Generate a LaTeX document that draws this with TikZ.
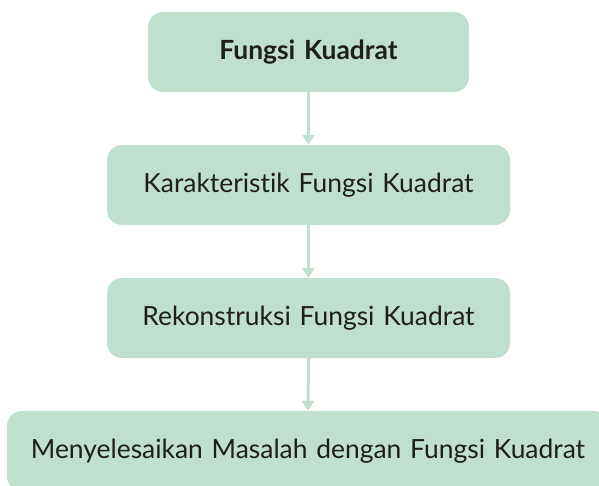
\documentclass[tikz,border=0pt]{standalone}
\usepackage{fontspec}
\setmainfont[Ligatures={NoCommon}]{Lato}
\usepackage{xcolor}
\usetikzlibrary{arrows.meta,positioning}
\definecolor{kuaMint}{HTML}{BFE0CF}
\definecolor{kuaText}{HTML}{1E1E1E}

\begin{document}
\begin{tikzpicture}[
    x=1pt, y=-1pt,
    font=\fontsize{26.4}{30}\selectfont,
    topic/.style={fill=kuaMint, draw=none, rounded corners=15pt, text=kuaText, minimum height=80pt, text width=#1, align=center, inner sep=0pt},
    flow/.style={-{Triangle[length=10pt, width=12pt]}, line width=3pt, draw=kuaMint}
]
\clip (0,0) rectangle (599,486);

\node[topic=321pt, font=\fontsize{26.4}{30}\selectfont\bfseries] (fk) at (308.5,52) {Fungsi Kuadrat};
\node[topic=403pt] (kar) at (308.5,185) {Karakteristik Fungsi Kuadrat};
\node[topic=403pt] (rek) at (308.5,318) {Rekonstruksi Fungsi Kuadrat};
\node[topic=602pt] (mas) at (308,451) {Menyelesaikan Masalah dengan Fungsi Kuadrat};

\draw[flow] (fk.south) -- (kar.north);
\draw[flow] (kar.south) -- (rek.north);
\draw[flow] (rek.south) -- (mas.north);
\end{tikzpicture}
\end{document}
